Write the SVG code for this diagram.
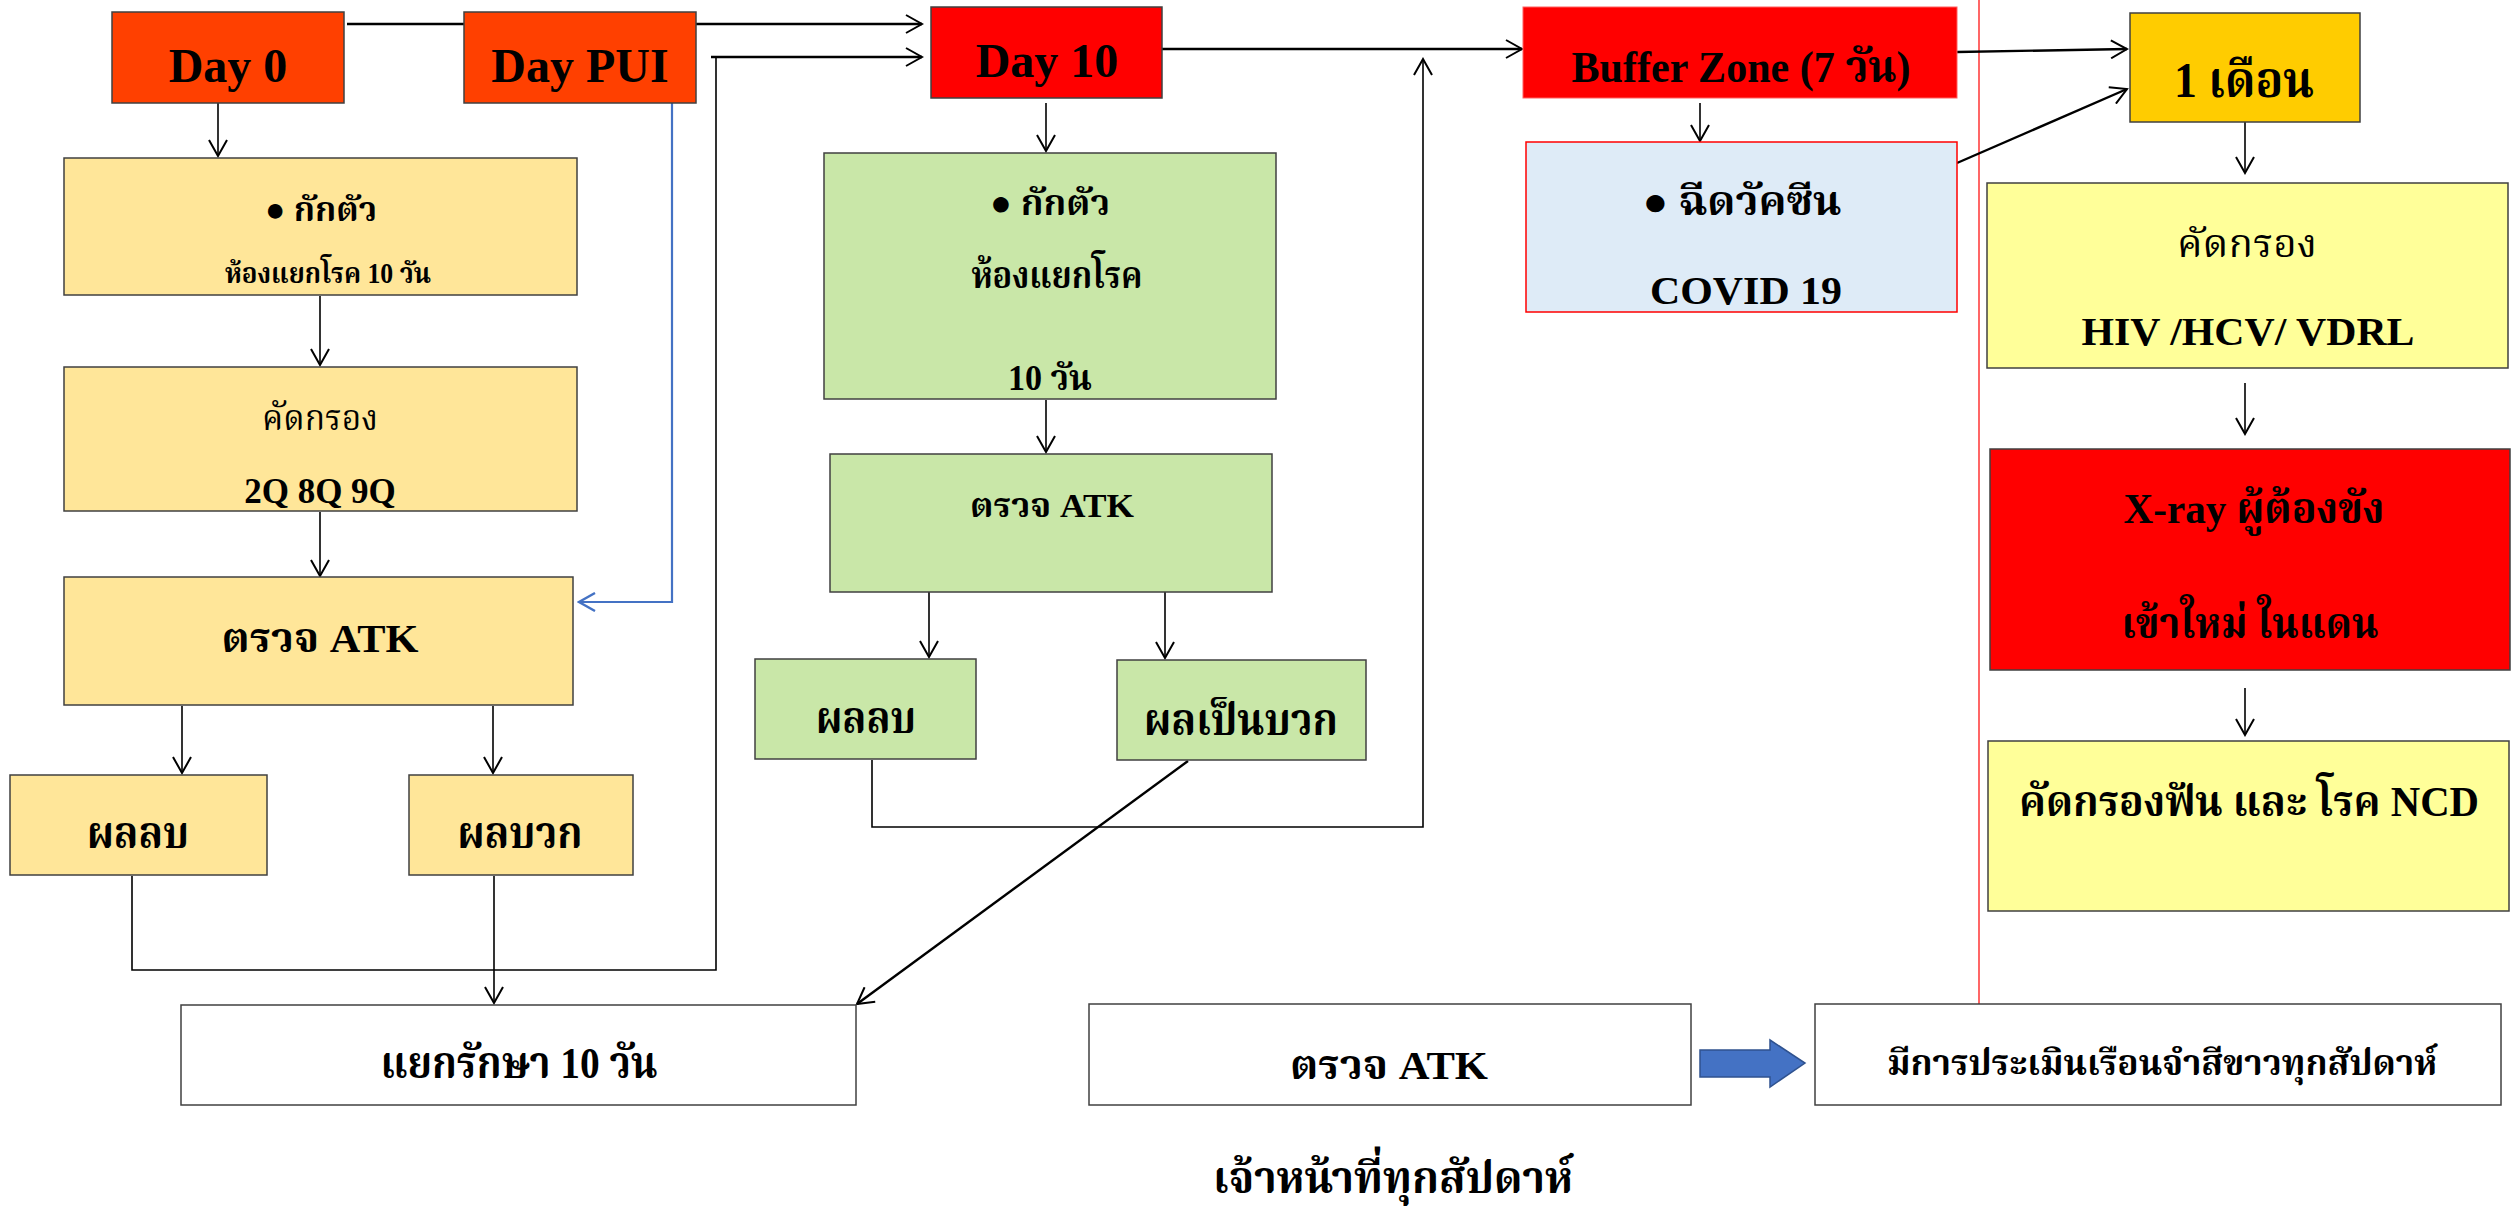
<svg xmlns="http://www.w3.org/2000/svg" width="2511" height="1208" viewBox="0 0 2511 1208">
<style>
.t{font-family:"Liberation Serif","Noto Serif Thai","Noto Sans Thai","Tlwg Typo","Garuda","DejaVu Sans",serif;font-weight:bold;text-anchor:middle;fill:#000}
.n{font-weight:normal}
.box{stroke:#404040;stroke-width:1.5}
.c{fill:none;stroke:#000;stroke-width:1.6}
.c2{fill:none;stroke:#000;stroke-width:2.4}
</style>
<defs>
<marker id="ah" viewBox="0 0 20 20" refX="18" refY="10" markerWidth="20" markerHeight="20" markerUnits="userSpaceOnUse" orient="auto">
<path d="M2,1 L18,10 L2,19" fill="none" stroke="#000" stroke-width="2"/>
</marker>
<marker id="ahb" viewBox="0 0 20 20" refX="18" refY="10" markerWidth="20" markerHeight="20" markerUnits="userSpaceOnUse" orient="auto">
<path d="M2,1 L18,10 L2,19" fill="none" stroke="#4472C4" stroke-width="2.4"/>
</marker>
</defs>
<rect width="2511" height="1208" fill="#fff"/>
<line x1="1979" y1="0" x2="1979" y2="1004" stroke="#FF0000" stroke-width="1.2"/>
<g id="connectors">
<path class="c2" d="M347,24 H922" marker-end="url(#ah)"/>
<path class="c" d="M218,103 V156" marker-end="url(#ah)"/>
<path class="c" d="M320,296 V365" marker-end="url(#ah)"/>
<path class="c" d="M320,512 V576" marker-end="url(#ah)"/>
<path d="M672,103 V602 H579" fill="none" stroke="#4472C4" stroke-width="2.2" marker-end="url(#ahb)"/>
<path class="c" d="M182,706 V773" marker-end="url(#ah)"/>
<path class="c" d="M493,706 V773" marker-end="url(#ah)"/>
<path class="c" d="M132,876 V970 H716 V57" />
<path class="c2" d="M711,57 H922" marker-end="url(#ah)"/>
<path class="c" d="M494,876 V1003" marker-end="url(#ah)"/>
<path class="c2" d="M1162,49 H1522" marker-end="url(#ah)"/>
<path class="c" d="M1046,103 V151" marker-end="url(#ah)"/>
<path class="c" d="M1046,400 V452" marker-end="url(#ah)"/>
<path class="c" d="M929,592 V657" marker-end="url(#ah)"/>
<path class="c" d="M1165,592 V658" marker-end="url(#ah)"/>
<path class="c" d="M872,760 V827 H1423 V59" marker-end="url(#ah)"/>
<path class="c2" d="M1188,761 L857,1004" marker-end="url(#ah)"/>
<path class="c" d="M1700,103 V141" marker-end="url(#ah)"/>
<path class="c2" d="M1957,52 L2127,49" marker-end="url(#ah)"/>
<path class="c2" d="M1957,163 L2127,89" marker-end="url(#ah)"/>
<path class="c" d="M2245,122 V173" marker-end="url(#ah)"/>
<path class="c" d="M2245,383 V434" marker-end="url(#ah)"/>
<path class="c" d="M2245,688 V735" marker-end="url(#ah)"/>
</g>
<g id="day0"><rect class="box" x="112" y="12" width="232" height="91" fill="#FF4000"/><text class="t" x="228" y="82" font-size="48">Day 0</text></g>
<g id="daypui"><rect class="box" x="464" y="12" width="232" height="91" fill="#FF4000"/><text class="t" x="580" y="82" font-size="48">Day PUI</text></g>
<g id="isolate1"><rect class="box" x="64" y="158" width="513" height="137" fill="#FFE699"/>
<text class="t" x="321" y="221" font-size="34" textLength="112" lengthAdjust="spacingAndGlyphs">● กักตัว</text>
<text class="t" x="328" y="283" font-size="29" textLength="206" lengthAdjust="spacingAndGlyphs">ห้องแยกโรค 10 วัน</text></g>
<g id="screen1"><rect class="box" x="64" y="367" width="513" height="144" fill="#FFE699"/>
<text class="t n" x="320" y="430" font-size="36" textLength="116" lengthAdjust="spacingAndGlyphs">คัดกรอง</text>
<text class="t" x="320" y="503" font-size="35">2Q 8Q 9Q</text></g>
<g id="atk1"><rect class="box" x="64" y="577" width="509" height="128" fill="#FFE699"/>
<text class="t" x="320" y="652" font-size="40" textLength="197" lengthAdjust="spacingAndGlyphs">ตรวจ ATK</text></g>
<g id="neg1"><rect class="box" x="10" y="775" width="257" height="100" fill="#FFE699"/>
<text class="t" x="138" y="848" font-size="44" textLength="102" lengthAdjust="spacingAndGlyphs">ผลลบ</text></g>
<g id="pos1"><rect class="box" x="409" y="775" width="224" height="100" fill="#FFE699"/>
<text class="t" x="520" y="848" font-size="44" textLength="125" lengthAdjust="spacingAndGlyphs">ผลบวก</text></g>
<g id="treat"><rect class="box" x="181" y="1005" width="675" height="100" fill="#fff"/>
<text class="t" x="519" y="1078" font-size="44" textLength="277" lengthAdjust="spacingAndGlyphs">แยกรักษา 10 วัน</text></g>
<g id="day10"><rect class="box" x="931" y="7" width="231" height="91" fill="#FF0000"/><text class="t" x="1047" y="77" font-size="48">Day 10</text></g>
<g id="isolate2"><rect class="box" x="824" y="153" width="452" height="246" fill="#C9E7A8"/>
<text class="t" x="1050" y="215" font-size="36" textLength="120" lengthAdjust="spacingAndGlyphs">● กักตัว</text>
<text class="t" x="1057" y="288" font-size="38" textLength="171" lengthAdjust="spacingAndGlyphs">ห้องแยกโรค</text>
<text class="t" x="1050" y="390" font-size="36" textLength="84" lengthAdjust="spacingAndGlyphs">10 วัน</text></g>
<g id="atk2"><rect class="box" x="830" y="454" width="442" height="138" fill="#C9E7A8"/>
<text class="t" x="1052" y="517" font-size="34" textLength="164" lengthAdjust="spacingAndGlyphs">ตรวจ ATK</text></g>
<g id="neg2"><rect class="box" x="755" y="659" width="221" height="100" fill="#C9E7A8"/>
<text class="t" x="866" y="733" font-size="44" textLength="100" lengthAdjust="spacingAndGlyphs">ผลลบ</text></g>
<g id="pos2"><rect class="box" x="1117" y="660" width="249" height="100" fill="#C9E7A8"/>
<text class="t" x="1241" y="735" font-size="44" textLength="194" lengthAdjust="spacingAndGlyphs">ผลเป็นบวก</text></g>
<g id="buffer"><rect x="1523" y="7" width="434" height="91" fill="#FF0000" stroke="#FF6060" stroke-width="1"/>
<text class="t" x="1741" y="82" font-size="44" textLength="339" lengthAdjust="spacingAndGlyphs">Buffer Zone (7 วัน)</text></g>
<g id="vaccine"><rect x="1526" y="142" width="431" height="170" fill="#DEEBF7" stroke="#FF0000" stroke-width="1.5"/>
<text class="t" x="1742" y="215" font-size="40" textLength="199" lengthAdjust="spacingAndGlyphs">● ฉีดวัคซีน</text>
<text class="t" x="1746" y="304" font-size="40" textLength="192" lengthAdjust="spacingAndGlyphs">COVID 19</text></g>
<g id="month1"><rect class="box" x="2130" y="13" width="230" height="109" fill="#FFCC00"/>
<text class="t" x="2244" y="97" font-size="50" textLength="140" lengthAdjust="spacingAndGlyphs">1 เดือน</text></g>
<g id="screen2"><rect class="box" x="1987" y="183" width="521" height="185" fill="#FFFF99"/>
<text class="t n" x="2247" y="257" font-size="40" textLength="140" lengthAdjust="spacingAndGlyphs">คัดกรอง</text>
<text class="t" x="2248" y="345" font-size="40" textLength="333" lengthAdjust="spacingAndGlyphs">HIV /HCV/ VDRL</text></g>
<g id="xray"><rect class="box" x="1990" y="449" width="520" height="221" fill="#FF0000"/>
<text class="t" x="2254" y="523" font-size="42" textLength="261" lengthAdjust="spacingAndGlyphs">X-ray ผู้ต้องขัง</text>
<text class="t" x="2250" y="638" font-size="42" textLength="257" lengthAdjust="spacingAndGlyphs">เข้าใหม่ ในแดน</text></g>
<g id="ncd"><rect class="box" x="1988" y="741" width="521" height="170" fill="#FFFF99"/>
<text class="t" x="2249" y="816" font-size="42" textLength="460" lengthAdjust="spacingAndGlyphs">คัดกรองฟัน และ โรค NCD</text></g>
<g id="atk3"><rect class="box" x="1089" y="1004" width="602" height="101" fill="#fff"/>
<text class="t" x="1389" y="1079" font-size="40" textLength="198" lengthAdjust="spacingAndGlyphs">ตรวจ ATK</text></g>
<g id="blockarrow"><path d="M1700,1050 H1770 V1040 L1805,1063 L1770,1087 V1077 H1700 Z" fill="#4472C4" stroke="#2F528F" stroke-width="1.5"/></g>
<g id="assess"><rect class="box" x="1815" y="1004" width="686" height="101" fill="#fff"/>
<text class="t" x="2162" y="1075" font-size="36" textLength="550" lengthAdjust="spacingAndGlyphs">มีการประเมินเรือนจำสีขาวทุกสัปดาห์</text></g>
<g id="staff"><text class="t" x="1393" y="1193" font-size="44" textLength="360" lengthAdjust="spacingAndGlyphs">เจ้าหน้าที่ทุกสัปดาห์</text></g>
</svg>
